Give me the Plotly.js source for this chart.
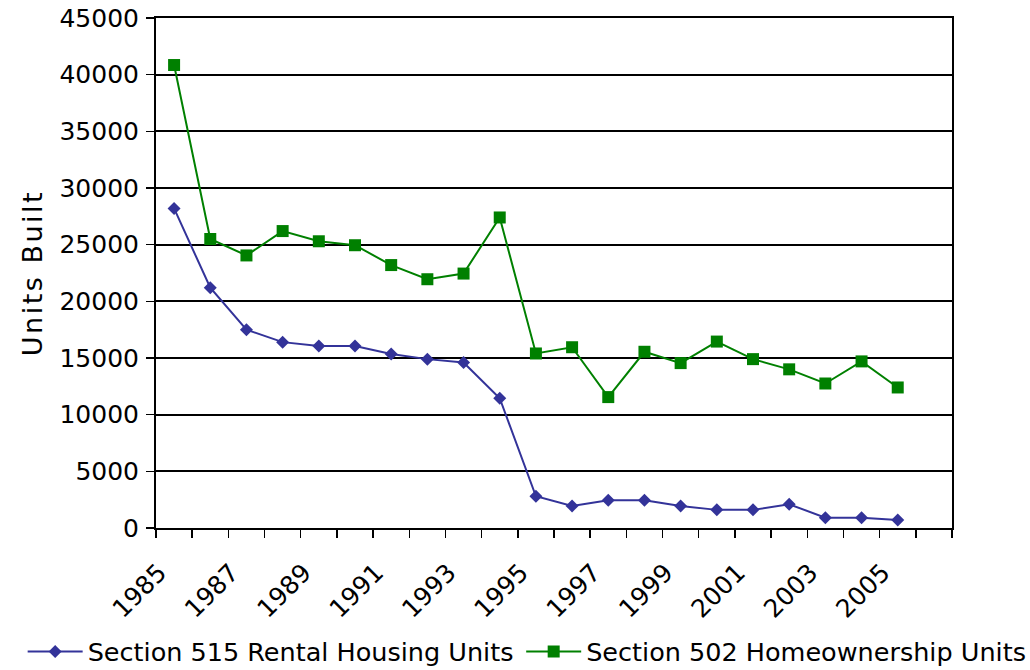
<!DOCTYPE html>
<html>
<head>
<meta charset="utf-8">
<script src="https://cdn.plot.ly/plotly-3.0.1.min.js"></script>
<style>
  html, body { margin: 0; padding: 0; background: #fff; }
  #chart { width: 1030px; height: 670px; }
  .ytitle { letter-spacing: 2.5px; }
</style>
</head>
<body>
<div id="chart"></div>
<script>
// Data
const years = [1985, 1986, 1987, 1988, 1989, 1990, 1991, 1992, 1993, 1994, 1995,
               1996, 1997, 1998, 1999, 2000, 2001, 2002, 2003, 2004, 2005];
const rental515 = [28200, 21200, 17500, 16400, 16050, 16050, 15350, 14900, 14600, 11450, 2800,
                   1950, 2450, 2450, 1950, 1600, 1600, 2100, 900, 900, 700];
const home502 = [40850, 25500, 24050, 26200, 25300, 24950, 23200, 21950, 22450, 27400, 15400,
                 15950, 11550, 15550, 14550, 16450, 14900, 14000, 12750, 14700, 12400];
const seriesNames = ["Section 515 Rental Housing Units", "Section 502 Homeownership Units"];
const yAxisTitle = "Units Built";
const labelYears = [1985, 1987, 1989, 1991, 1993, 1995, 1997, 1999, 2001, 2003, 2005];

// category boundaries (one extra empty category at the end, as in the reference)
const boundaries = [];
for (let i = 0; i <= years.length + 1; i++) boundaries.push(years[0] - 0.5 + i);

const font = "DejaVu Sans, Verdana, sans-serif";

const traces = [
  {
    x: years, y: rental515, name: seriesNames[0], type: "scatter", mode: "lines+markers",
    line: { color: "#333399", width: 2 },
    marker: { symbol: "diamond", size: 10, color: "#333399" },
    legend: "legend"
  },
  {
    x: years, y: home502, name: seriesNames[1], type: "scatter", mode: "lines+markers",
    line: { color: "#008000", width: 2 },
    marker: { symbol: "square", size: 12, color: "#008000" },
    legend: "legend2"
  }
];

const legendBase = {
  orientation: "h",
  xref: "container", yref: "container",
  xanchor: "left", yanchor: "middle",
  font: { family: font, size: 25.5, color: "#000" },
  bgcolor: "rgba(0,0,0,0)",
  itemwidth: 55
};

const layout = {
  width: 1030, height: 670,
  margin: { l: 156, r: 78, t: 18, b: 142 },
  paper_bgcolor: "#fff", plot_bgcolor: "#fff",
  font: { family: font, color: "#000", size: 25 },
  showlegend: true,
  xaxis: {
    type: "linear",
    range: [boundaries[0], boundaries[boundaries.length - 1]],
    tickmode: "array", tickvals: labelYears, ticktext: labelYears.map(String),
    ticks: "outside", ticklen: 8, tickcolor: "rgba(0,0,0,0)",
    tickangle: -45, ticklabelshift: -15, ticklabelstandoff: 10,
    tickfont: { family: font, size: 25, color: "#000" },
    showgrid: false, zeroline: false,
    showline: true, linecolor: "#000", linewidth: 2, mirror: true,
    automargin: false,
    minor: { tickmode: "array", tickvals: boundaries, ticks: "outside", ticklen: 8,
             tickcolor: "#000", tickwidth: 1.5, showgrid: false },
    fixedrange: true
  },
  yaxis: {
    range: [0, 45000], dtick: 5000, tick0: 0, tickformat: "d",
    ticks: "outside", ticklen: 8, tickcolor: "#000", tickwidth: 1.5,
    ticklabelstandoff: 2,
    tickfont: { family: font, size: 25, color: "#000" },
    showgrid: true, gridcolor: "#000", gridwidth: 2,
    zeroline: false,
    showline: true, linecolor: "#000", linewidth: 2, mirror: true,
    automargin: "left",
    title: { text: yAxisTitle, standoff: 9, font: { family: font, size: 27, color: "#000" } },
    fixedrange: true
  },
  legend: Object.assign({}, legendBase, { x: 0.022, y: 0.027 }),
  legend2: Object.assign({}, legendBase, { x: 0.506, y: 0.027 })
};

Plotly.newPlot("chart", traces, layout, { staticPlot: true, displayModeBar: false });
</script>
</body>
</html>
